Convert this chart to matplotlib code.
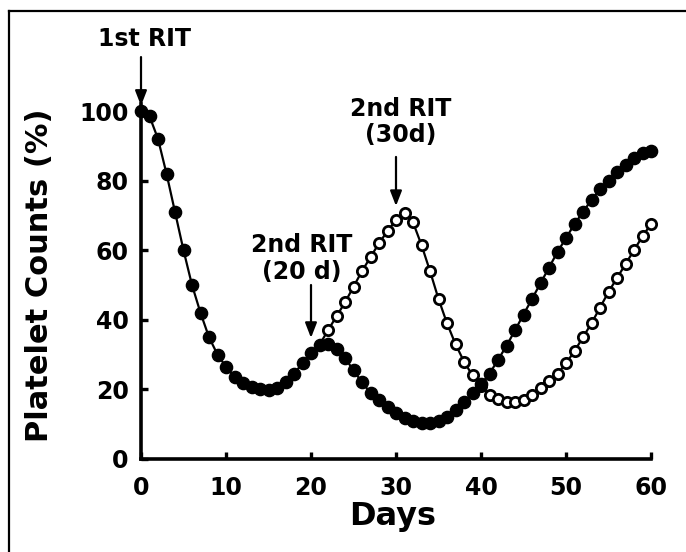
import matplotlib
matplotlib.use("Agg")
import matplotlib.pyplot as plt
from matplotlib.lines import Line2D

plt.rcParams['font.family'] = ['DejaVu Sans']

# Data
days_20d = list(range(0, 61))
counts_20d = [100, 98.5, 92, 82, 71, 60, 50, 42, 35, 30,
              26.5, 23.5, 21.8, 20.7, 20, 19.8, 20.5, 22, 24.5, 27.5,
              30.5, 32.8, 33, 31.5, 29, 25.5, 22, 19, 17, 15,
              13.2, 11.8, 10.8, 10.3, 10.3, 11, 12.2, 14, 16.3, 19,
              21.5, 24.5, 28.5, 32.5, 37, 41.5, 46, 50.5, 55, 59.5,
              63.5, 67.5, 71, 74.5, 77.5, 80, 82.5, 84.5, 86.5, 88, 88.5]

days_30d = list(range(21, 61))
counts_30d = [32.8, 37, 41, 45, 49.5, 54, 58, 62, 65.5, 68.7,
              70.8, 68, 61.5, 54, 46, 39, 33, 28, 24, 21,
              18.5, 17.3, 16.3, 16.3, 17, 18.3, 20.3, 22.3, 24.5, 27.5,
              31, 35, 39, 43.5, 48, 52, 56, 60, 64, 67.5]

x_ticks = [0, 10, 20, 30, 40, 50, 60]
y_ticks = [0, 20, 40, 60, 80, 100]

W, H = 686, 552
fig = plt.figure(figsize=(W / 100, H / 100), dpi=100)

ax_left, ax_right, ax_bottom = 141, 651, 459
ymax = 102
px_per_unit = 3.48
ax_top = ax_bottom - ymax * px_per_unit
ax = fig.add_axes([ax_left / W, 1 - ax_bottom / H,
                   (ax_right - ax_left) / W, (ax_bottom - ax_top) / H])

ax.plot(days_30d, counts_30d, color='black', lw=1.6, marker='o', ms=7.4,
        mfc='white', mec='black', mew=2.0, markevery=list(range(1, len(days_30d))),
        zorder=3, clip_on=False)
ax.plot(days_20d, counts_20d, color='black', lw=1.6, marker='o', ms=8.8,
        mfc='black', mec='black', zorder=4, clip_on=False)

ax.set_xlim(0, 60)
ax.set_ylim(0, ymax)
ax.set_xticks(x_ticks)
ax.set_yticks(y_ticks)
ax.set_xticklabels([str(t) for t in x_ticks])
ax.set_yticklabels([str(t) for t in y_ticks])
for s in ['top', 'right']:
    ax.spines[s].set_visible(False)
for s in ['left', 'bottom']:
    ax.spines[s].set_linewidth(2.6)
ax.tick_params(axis='both', direction='in', length=5, width=2.4,
               labelsize=17)
ax.tick_params(axis='x', pad=12)
ax.tick_params(axis='y', pad=9)
for lab in ax.get_xticklabels() + ax.get_yticklabels():
    lab.set_fontweight('bold')

arrow_kw = dict(arrowstyle='-|>,head_length=0.9,head_width=0.35', color='black',
                lw=1.6, shrinkA=0, shrinkB=0)

# 1st RIT
ax.text(0.4, 120.7, '1st RIT', ha='center', va='center', fontsize=17,
        fontweight='bold', clip_on=False)
ax.annotate('', xy=(0, 101.5), xytext=(0, 115.5), arrowprops=arrow_kw,
            annotation_clip=False)

# 2nd RIT (20 d)
ax.text(18.9, 57.5, '2nd RIT\n(20 d)', ha='center', va='center', fontsize=17,
        fontweight='bold', linespacing=1.15)
ax.annotate('', xy=(20, 34.8), xytext=(20, 50), arrowprops=arrow_kw)

# 2nd RIT (30d)
ax.text(30.5, 96.8, '2nd RIT\n(30d)', ha='center', va='center', fontsize=17,
        fontweight='bold', linespacing=1.1, clip_on=False)
ax.annotate('', xy=(30, 72.7), xytext=(30, 86.8), arrowprops=arrow_kw,
            annotation_clip=False)

fig.text(393 / W, 1 - 517 / H, 'Days', ha='center', va='center',
         fontsize=23, fontweight='bold')
fig.text(40 / W, 1 - 275 / H, 'Platelet Counts (%)', ha='center', va='center',
         rotation=90, fontsize=22, fontweight='bold')

# Frame
fx = 8.5 / W
fy = 1 - 11 / H
fig.add_artist(Line2D([fx, fx], [0, fy], color='black', lw=1.6))
fig.add_artist(Line2D([fx, 1], [fy, fy], color='black', lw=1.6))

fig.savefig('out.png', dpi=100)
